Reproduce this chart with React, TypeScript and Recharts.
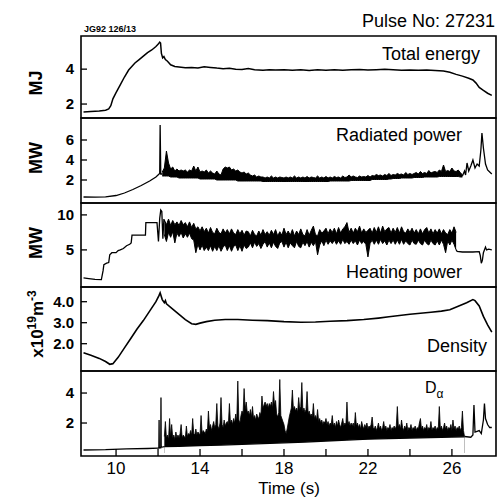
import React from 'react';
import { ComposedChart, Line, Area, XAxis, YAxis, ReferenceArea } from 'recharts';

const FONT = "'Liberation Sans', Arial, Helvetica, sans-serif";
const X_MIN = 8.33;
const X_MAX = 28.1;
const TIME_TICKS = [10, 12, 14, 16, 18, 20, 22, 24, 26];
const TIME_LABELS = [10, 14, 18, 22, 26];

// Total energy (MJ) [t, value]
const ENERGY: number[][] = [
  [8.45, 1.55], [8.8, 1.57], [9.2, 1.6], [9.5, 1.65], [9.65, 1.72], [9.75, 1.9], [9.85, 2.3], [10.0, 2.65],
  [10.2, 3.1], [10.4, 3.55], [10.6, 3.95], [10.75, 4.15], [10.9, 4.35], [11.1, 4.55], [11.3, 4.75], [11.5, 4.95],
  [11.7, 5.1], [11.9, 5.3], [12.0, 5.42], [12.08, 5.55], [12.12, 5.5], [12.16, 4.9], [12.22, 4.65], [12.28, 4.72],
  [12.35, 4.55], [12.45, 4.45], [12.6, 4.25], [12.8, 4.15], [13.0, 4.12], [13.3, 4.08], [13.6, 4.1], [13.9, 4.06],
  [14.2, 4.14], [14.5, 4.1], [14.8, 4.06], [15.1, 4.03], [15.4, 4.05], [15.7, 4.0], [16.0, 3.98], [16.3, 4.03],
  [16.6, 3.97], [17.0, 3.93], [17.3, 3.97], [17.6, 3.95], [18.0, 3.97], [18.4, 3.93], [18.8, 3.96], [19.2, 3.92],
  [19.6, 3.96], [20.0, 3.94], [20.4, 3.97], [20.8, 3.93], [21.2, 3.96], [21.6, 3.98], [22.0, 3.95], [22.4, 3.97],
  [22.8, 3.99], [23.2, 3.96], [23.6, 3.94], [24.0, 3.95], [24.4, 3.93], [24.8, 3.95], [25.2, 3.92], [25.6, 3.9],
  [25.9, 3.82], [26.2, 3.7], [26.5, 3.6], [26.8, 3.48], [27.0, 3.38], [27.15, 3.2], [27.3, 2.95], [27.5, 2.78],
  [27.7, 2.62], [27.9, 2.5],
];

// Radiated power (MW)
const RAD_RAMP: number[][] = [
  [8.45, 0.3], [9.0, 0.28], [9.5, 0.32], [10.0, 0.45], [10.4, 0.7], [10.8, 1.05], [11.2, 1.45],
  [11.6, 1.9], [11.9, 2.3], [12.05, 2.6], [12.08, 2.65], [12.1, 7.5], [12.13, 2.6], [12.2, 2.6],
];
// band [low, high] sampled every 0.1 s from 12.2 s
const RAD_BAND_START = 12.2;
const RAD_BAND: number[][] = [
  [2.4, 2.8], [2.4, 3.2], [2.4, 4.9], [2.4, 3.7], [2.3, 3.1], [2.3, 3.3], [2.3, 2.9], [2.3, 3.1], [2.2, 2.9], [2.2, 3.0],
  [2.2, 2.9], [2.2, 3.0], [2.2, 2.8], [2.2, 3.0], [2.2, 2.9], [2.2, 3.4], [2.2, 2.9], [2.2, 3.3], [2.1, 2.8], [2.1, 2.9],
  [2.1, 2.8], [2.1, 3.0], [2.1, 2.7], [2.1, 2.9], [2.1, 2.7], [2.1, 2.6], [2.0, 2.9], [2.0, 2.6], [2.0, 2.5], [2.0, 3.1],
  [2.0, 3.3], [2.0, 3.2], [2.0, 3.3], [2.0, 3.0], [2.0, 3.1], [2.0, 2.9], [1.9, 3.0], [1.9, 2.8], [1.9, 2.7], [1.9, 2.8],
  [1.9, 2.6], [1.9, 2.7], [1.9, 2.5], [1.9, 2.4], [1.9, 2.5], [1.9, 2.3], [1.9, 2.4], [1.9, 2.3], [1.85, 2.3], [1.85, 2.2],
  [1.85, 2.3], [1.85, 2.2], [1.85, 2.4], [1.85, 2.2], [1.85, 2.3], [1.85, 2.2], [1.85, 2.3], [1.85, 2.25], [1.85, 2.2], [1.85, 2.3],
  [1.85, 2.2], [1.85, 2.3], [1.85, 2.2], [1.85, 2.4], [1.85, 2.2], [1.85, 2.3], [1.85, 2.2], [1.85, 2.3], [1.85, 2.2], [1.85, 2.35],
  [1.85, 2.2], [1.85, 2.3], [1.85, 2.25], [1.85, 2.2], [1.85, 2.4], [1.85, 2.2], [1.85, 2.3], [1.85, 2.2], [1.85, 2.35], [1.85, 2.2],
  [1.9, 2.3], [1.9, 2.2], [1.9, 2.35], [1.9, 2.25], [1.9, 2.3], [1.9, 2.2], [1.9, 2.4], [1.9, 2.25], [1.9, 2.3], [1.9, 2.5],
  [1.95, 2.3], [1.95, 2.4], [1.95, 2.3], [1.95, 2.25], [1.95, 2.4], [1.95, 2.3], [1.95, 2.35], [1.95, 2.3], [1.95, 2.45], [1.95, 2.3],
  [2.05, 2.45], [2.05, 2.4], [2.05, 2.55], [2.05, 2.45], [2.05, 2.5], [2.05, 2.4], [2.05, 2.55], [2.05, 2.45], [2.1, 2.65], [2.1, 2.45],
  [2.15, 2.55], [2.15, 2.5], [2.15, 2.65], [2.15, 2.55], [2.2, 2.6], [2.2, 2.5], [2.2, 2.75], [2.2, 2.55], [2.2, 2.65], [2.2, 2.55],
  [2.25, 2.65], [2.25, 2.75], [2.25, 2.6], [2.25, 2.85], [2.25, 2.65], [2.3, 2.75], [2.3, 2.65], [2.3, 2.95], [2.3, 2.7], [2.3, 2.8],
  [2.3, 2.85], [2.3, 2.75], [2.35, 3.0], [2.35, 2.85], [2.35, 3.5], [2.35, 2.85], [2.35, 2.95], [2.35, 2.85], [2.35, 3.2], [2.35, 2.9],
  [2.35, 2.85], [2.35, 3.0], [2.3, 2.75], [2.3, 2.5],
];
const RAD_TAIL: number[][] = [
  [26.5, 2.4], [26.6, 2.9], [26.65, 2.5], [26.72, 3.7], [26.8, 2.9], [26.9, 3.4], [27.0, 4.0], [27.1, 3.2],
  [27.2, 3.6], [27.3, 3.4], [27.38, 5.0], [27.43, 6.7], [27.5, 5.2], [27.55, 4.4], [27.6, 3.6], [27.7, 3.0],
  [27.8, 2.8], [27.9, 2.6],
];

// Heating power (MW)
const HEAT_RAMP: number[][] = [
  [8.45, 1.0], [8.7, 0.9], [9.0, 0.8], [9.3, 0.75], [9.38, 2.0], [9.42, 2.9], [9.55, 3.1], [9.65, 3.2],
  [9.7, 4.3], [9.8, 4.6], [10.0, 4.6], [10.1, 4.9], [10.2, 5.0], [10.35, 5.2], [10.5, 5.6], [10.65, 5.8],
  [10.72, 6.0], [10.76, 7.1], [11.4, 7.1], [11.42, 8.9], [11.95, 8.9], [12.02, 6.2], [12.08, 9.5], [12.13, 10.7],
  [12.18, 10.5], [12.23, 6.6], [12.28, 9.4], [12.3, 9.0],
];
// band [low, high] sampled every 0.1 s from 12.3 s
const HEAT_BAND_START = 12.3;
const HEAT_BAND: number[][] = [
  [7.2, 9.3], [6.2, 8.6], [7.5, 9.4], [6.8, 8.5], [7.6, 9.2], [6.0, 8.6], [7.4, 9.0], [6.9, 8.5], [7.5, 9.2], [6.7, 8.6],
  [7.3, 8.9], [6.8, 8.3], [7.4, 9.0], [6.6, 8.2], [6.4, 8.8], [4.6, 8.0], [5.8, 8.3], [5.0, 7.7], [5.7, 8.3], [4.9, 7.6],
  [5.4, 8.1], [4.9, 7.4], [5.6, 8.2], [4.8, 7.5], [5.5, 7.3], [4.9, 8.1], [5.6, 7.5], [4.8, 7.3], [5.4, 8.0], [5.7, 7.4],
  [4.9, 7.9], [5.6, 7.3], [4.8, 8.0], [5.5, 7.4], [5.7, 7.2], [4.9, 7.9], [5.6, 7.3], [4.8, 7.8], [5.7, 7.1], [5.2, 7.7],
  [5.4, 7.6], [6.0, 7.0], [5.3, 7.8], [6.1, 7.2], [5.5, 7.0], [5.9, 7.7], [5.2, 7.1], [5.8, 7.9], [6.2, 7.2], [5.4, 7.6],
  [6.0, 7.1], [5.3, 7.8], [6.1, 7.2], [5.5, 7.9], [5.2, 7.0], [6.0, 7.6], [6.2, 7.1], [5.4, 8.1], [6.1, 7.2], [5.3, 7.7],
  [6.0, 7.1], [5.6, 7.9], [5.3, 7.0], [6.2, 7.7], [5.5, 7.2], [5.3, 8.0], [6.1, 7.2], [5.6, 7.0], [6.2, 7.9], [5.4, 7.1],
  [6.1, 7.8], [5.6, 8.4], [6.2, 7.2], [4.3, 7.0], [5.7, 7.9], [6.3, 7.4], [5.6, 7.7], [6.4, 8.1], [5.8, 7.3], [6.3, 8.0],
  [5.9, 7.5], [6.4, 8.1], [5.8, 7.3], [6.3, 8.2], [5.8, 7.4], [6.5, 8.0], [5.9, 8.3], [6.2, 8.9], [5.8, 7.5], [6.4, 8.1],
  [5.9, 7.4], [6.3, 8.1], [5.7, 7.6], [6.4, 8.4], [5.9, 7.4], [6.2, 8.0], [5.8, 7.5], [4.0, 7.8], [5.9, 8.1], [6.4, 7.4],
  [5.8, 8.2], [6.4, 7.5], [5.8, 8.3], [6.5, 7.4], [5.9, 8.4], [6.3, 7.6], [5.7, 8.0], [6.4, 8.2], [5.9, 7.4], [6.4, 8.1],
  [5.8, 7.5], [6.4, 8.2], [5.8, 7.4], [6.5, 8.3], [5.8, 7.6], [6.3, 7.4], [5.9, 8.0], [5.7, 7.5], [6.4, 8.1], [5.9, 7.4],
  [5.8, 7.9], [6.4, 7.3], [5.9, 8.0], [5.7, 7.3], [6.4, 7.9], [5.9, 8.2], [5.7, 7.4], [6.4, 8.0], [5.9, 7.3], [5.7, 7.9],
  [6.3, 7.4], [5.7, 8.0], [6.4, 7.3], [5.8, 7.9], [4.6, 7.4], [6.3, 7.2], [5.7, 7.9], [6.4, 7.4], [5.8, 8.3], [5.0, 7.5],
];
const HEAT_TAIL: number[][] = [
  [26.2, 5.0], [26.25, 4.8], [26.5, 4.7], [27.0, 4.7], [27.3, 4.75], [27.35, 4.2], [27.4, 3.1], [27.45, 3.5],
  [27.5, 4.6], [27.6, 5.4], [27.65, 5.0], [27.75, 5.1], [27.9, 5.0],
];

// Density (1e19 m^-3)
const DENSITY: number[][] = [
  [8.45, 1.57], [8.8, 1.45], [9.2, 1.3], [9.5, 1.15], [9.7, 1.02], [9.85, 1.05], [10.1, 1.35], [10.4, 1.8],
  [10.7, 2.25], [11.0, 2.7], [11.3, 3.1], [11.6, 3.55], [11.9, 4.0], [12.05, 4.3], [12.1, 4.42], [12.2, 4.1],
  [12.3, 3.95], [12.35, 4.05], [12.4, 3.9], [12.7, 3.65], [13.0, 3.4], [13.3, 3.15], [13.6, 2.95], [13.8, 2.92],
  [14.0, 2.98], [14.3, 3.05], [14.7, 3.12], [15.2, 3.15], [15.8, 3.15], [16.5, 3.12], [17.2, 3.1], [18.0, 3.05],
  [18.8, 3.02], [19.5, 3.03], [20.2, 3.07], [21.0, 3.1], [21.8, 3.15], [22.5, 3.22], [23.0, 3.28], [23.5, 3.34],
  [24.0, 3.4], [24.5, 3.45], [25.0, 3.5], [25.5, 3.55], [25.9, 3.62], [26.3, 3.78], [26.7, 3.95], [27.0, 4.1],
  [27.1, 4.05], [27.3, 3.8], [27.5, 3.3], [27.7, 2.9], [27.9, 2.55],
];

// D-alpha (a.u.)
const DA_PRE: number[][] = [
  [8.45, 0.2], [9.5, 0.22], [10.5, 0.27], [11.5, 0.3], [12.0, 0.33], [12.04, 0.33], [12.05, 2.2], [12.06, 0.35],
  [12.13, 0.35], [12.14, 3.7], [12.15, 0.38], [12.3, 0.42],
];
// bursts sampled every 0.05 s from 12.3 s
const DA_BURST_START = 12.3;
const DA_BURSTS = [
  1.1, 2.1, 1.0, 1.2, 0.9, 2.3, 1.1, 1.9, 1.0, 1.2, 0.9, 1.4, 1.0, 1.2, 1.0, 1.3, 1.9, 1.0, 1.2, 1.1,
  1.0, 1.8, 1.1, 1.3, 1.2, 1.5, 1.2, 2.3, 1.3, 1.2, 1.6, 1.2, 1.4, 1.3, 1.2, 2.5, 1.3, 1.5, 1.4, 1.3,
  1.6, 1.4, 2.8, 1.7, 1.9, 1.5, 1.8, 2.1, 1.7, 1.9, 3.3, 1.8, 1.6, 2.0, 3.7, 1.9, 1.7, 2.2, 1.8, 2.0,
  2.1, 1.9, 3.3, 2.0, 2.2, 1.9, 2.3, 2.0, 2.6, 2.1, 4.8, 2.2, 2.0, 2.5, 2.8, 2.6, 4.3, 2.9, 3.4, 2.7,
  2.8, 2.5, 2.9, 2.4, 3.1, 2.3, 2.5, 2.2, 2.6, 2.4, 2.3, 2.7, 2.5, 3.8, 3.0, 3.2, 3.4, 3.1, 3.3, 3.0,
  3.3, 3.1, 3.4, 3.0, 4.1, 3.2, 3.5, 2.6, 2.4, 2.7, 4.9, 2.5, 2.3, 2.1, 1.9, 1.5, 1.3, 1.6, 2.0, 2.4,
  2.7, 3.0, 4.2, 2.9, 3.1, 2.8, 3.0, 2.7, 3.7, 2.9, 3.1, 4.7, 2.8, 3.0, 2.7, 2.9, 4.1, 2.6, 2.8, 2.5,
  2.6, 2.4, 3.3, 2.3, 2.5, 2.2, 2.9, 2.1, 2.3, 2.0, 2.2, 1.9, 2.1, 2.0, 2.3, 1.9, 2.1, 1.8, 2.0, 1.9,
  2.5, 1.8, 2.0, 1.7, 2.1, 1.8, 2.2, 1.9, 1.7, 2.0, 2.3, 1.8, 2.0, 1.9, 3.4, 1.9, 2.1, 1.8, 2.0, 1.8,
  2.0, 1.7, 2.7, 1.8, 2.0, 1.7, 1.9, 1.6, 2.1, 1.8, 1.6, 1.9, 1.7, 2.0, 1.6, 1.8, 1.7, 1.9, 2.4, 1.7,
  1.6, 1.8, 1.5, 1.7, 2.0, 1.6, 1.8, 1.5, 1.7, 2.1, 1.6, 1.8, 1.5, 1.7, 1.6, 1.9, 1.5, 1.7, 1.6, 1.8,
  1.6, 1.8, 3.1, 1.7, 1.9, 1.6, 2.2, 1.7, 1.5, 1.8, 1.6, 2.0, 1.5, 1.7, 1.6, 1.9, 1.5, 1.7, 1.6, 1.8,
  1.5, 1.7, 1.6, 2.0, 2.3, 1.6, 1.8, 1.5, 1.7, 1.6, 1.9, 1.5, 1.7, 1.6, 2.1, 1.5, 1.7, 1.6, 1.8, 1.5,
  1.7, 1.6, 3.1, 1.6, 1.8, 1.5, 1.7, 2.0, 1.6, 1.8, 1.5, 1.7, 1.6, 1.9, 1.5, 2.2, 1.6, 1.8, 1.5, 1.7,
  1.6, 1.8, 1.5, 1.7, 2.8, 1.5, 1.1,
];
const DA_BASE: number[][] = [
  [12.3, 0.42], [13.0, 0.45], [14.0, 0.5], [15.0, 0.53], [16.0, 0.58], [17.0, 0.63], [18.0, 0.68], [19.0, 0.73],
  [20.0, 0.8], [21.0, 0.86], [22.0, 0.92], [23.0, 0.96], [24.0, 1.0], [25.0, 1.03], [26.0, 1.06], [26.6, 1.08],
];
const DA_TAIL: number[][] = [
  [26.6, 1.1], [26.9, 1.05], [27.0, 1.2], [27.05, 3.2], [27.1, 1.4], [27.3, 1.5], [27.4, 1.3], [27.5, 2.2],
  [27.55, 3.3], [27.6, 2.3], [27.7, 1.9], [27.8, 1.7], [27.9, 1.7],
];

const pts = (arr: number[][]) => arr.map(([t, v]) => ({ t, v }));
const sampled = (t0: number, step: number, vals: number[]) =>
  vals.map((v, i) => ({ t: Math.round((t0 + i * step) * 1000) / 1000, v }));
const band = (t0: number, step: number, pairs: number[][]) =>
  pairs.map(([lo, hi], i) => ({ t: Math.round((t0 + i * step) * 1000) / 1000, v: [lo, hi] }));

type PanelProps = {
  top: number;
  height: number;
  domain: [number, number];
  ticks: number[];
  fmt?: (v: number) => string;
  last?: boolean;
  children?: React.ReactNode;
};

function Panel({ top, height, domain, ticks, fmt, last, children }: PanelProps) {
  const axisH = last ? 40 : 0;
  return (
    <div style={{ position: 'absolute', left: 0, top: top - 2 }}>
      <ComposedChart
        width={498}
        height={height + 2 + (last ? axisH : 2)}
        margin={{ top: 2, right: 2, bottom: last ? 0 : 2, left: 0 }}
      >
        <XAxis
          type="number"
          dataKey="t"
          domain={[X_MIN, X_MAX]}
          allowDataOverflow
          ticks={TIME_TICKS}
          interval={0}
          hide={!last}
          height={axisH}
          axisLine={false}
          tickSize={-7}
          tickMargin={13}
          tickLine={{ stroke: '#000', strokeWidth: 1.3 }}
          tick={{ fontSize: 17, fill: '#000', fontFamily: FONT }}
          tickFormatter={(v: number) => (TIME_LABELS.includes(v) ? String(v) : '')}
        />
        <YAxis
          type="number"
          domain={domain}
          allowDataOverflow
          ticks={ticks}
          interval={0}
          width={81}
          axisLine={false}
          tickSize={-6}
          tickMargin={13}
          tickLine={{ stroke: '#000', strokeWidth: 1.3 }}
          tick={{ fontSize: 15, fontWeight: 700, fill: '#000', fontFamily: FONT }}
          tickFormatter={fmt}
        />
        <ReferenceArea
          x1={X_MIN}
          x2={X_MAX}
          y1={domain[0]}
          y2={domain[1]}
          fill="none"
          fillOpacity={0}
          stroke="#000"
          strokeWidth={1.6}
          ifOverflow="visible"
        />
        {children}
      </ComposedChart>
    </div>
  );
}

const lineProps = {
  type: 'linear' as const,
  dataKey: 'v',
  stroke: '#000',
  dot: false,
  activeDot: false,
  isAnimationActive: false,
};

const areaProps = {
  type: 'linear' as const,
  dataKey: 'v',
  stroke: '#000',
  fill: '#000',
  fillOpacity: 1,
  dot: false,
  activeDot: false,
  isAnimationActive: false,
};

export default function App() {
  return (
    <div style={{ position: 'absolute', left: 0, top: 0, width: 498, height: 497, background: '#fff', fontFamily: FONT }}>
      <Panel top={36} height={82} domain={[1.2, 5.9]} ticks={[2, 4]}>
        <Line {...lineProps} data={pts(ENERGY)} strokeWidth={1.5} />
      </Panel>
      <Panel top={118} height={85} domain={[-0.3, 8.2]} ticks={[2, 4, 6]}>
        <Area {...areaProps} data={band(RAD_BAND_START, 0.1, RAD_BAND)} strokeWidth={1} />
        <Line {...lineProps} data={pts(RAD_RAMP)} strokeWidth={1.3} />
        <Line {...lineProps} data={pts(RAD_TAIL)} strokeWidth={1.3} />
      </Panel>
      <Panel top={203} height={84} domain={[-0.3, 11.7]} ticks={[5, 10]}>
        <Area {...areaProps} data={band(HEAT_BAND_START, 0.1, HEAT_BAND)} strokeWidth={1} />
        <Line {...lineProps} data={pts(HEAT_RAMP)} strokeWidth={1.3} />
        <Line {...lineProps} data={pts(HEAT_TAIL)} strokeWidth={1.3} />
      </Panel>
      <Panel top={287} height={84} domain={[0.7, 4.7]} ticks={[2, 3, 4]} fmt={(v: number) => v.toFixed(1)}>
        <Line {...lineProps} data={pts(DENSITY)} strokeWidth={1.6} />
      </Panel>
      <Panel top={371} height={85} domain={[-0.2, 5.47]} ticks={[2, 4]} last>
        <Area {...areaProps} data={sampled(DA_BURST_START, 0.05, DA_BURSTS)} strokeWidth={0.8} baseValue={0} />
        <Area {...areaProps} data={pts(DA_BASE)} fill="#fff" strokeWidth={1.3} baseValue={0} />
        <Line {...lineProps} data={pts(DA_PRE)} strokeWidth={1.3} />
        <Line {...lineProps} data={pts(DA_TAIL)} strokeWidth={1.3} />
      </Panel>
      <svg
        width={498}
        height={497}
        style={{ position: 'absolute', left: 0, top: 0, pointerEvents: 'none' }}
        fontFamily={FONT}
        fill="#000"
      >
        <text x={84} y={32} fontSize={9} fontWeight={700}>JG92 126/13</text>
        <text x={495} y={27} fontSize={18} textAnchor="end">Pulse No: 27231</text>
        <text x={480} y={60} fontSize={18} textAnchor="end">Total energy</text>
        <text x={462} y={141} fontSize={18} textAnchor="end">Radiated power</text>
        <text x={462} y={278} fontSize={18} textAnchor="end">Heating power</text>
        <text x={487} y={352} fontSize={18} textAnchor="end">Density</text>
        <text x={425} y={393} fontSize={16}>
          D<tspan fontSize={12} dy={5}>α</tspan>
        </text>
        <text transform="translate(42,83) rotate(-90)" fontSize={18} fontWeight={700} textAnchor="middle">MJ</text>
        <text transform="translate(42,158) rotate(-90)" fontSize={18} fontWeight={700} textAnchor="middle">MW</text>
        <text transform="translate(42,243) rotate(-90)" fontSize={18} fontWeight={700} textAnchor="middle">MW</text>
        <text transform="translate(43,324) rotate(-90)" fontSize={17} fontWeight={700} textAnchor="middle">
          x10<tspan fontSize={12} dy={-7}>19</tspan><tspan dy={7}>m</tspan><tspan fontSize={12} dy={-7}>-3</tspan>
        </text>
        <text x={289} y={494} fontSize={17} textAnchor="middle">Time (s)</text>
      </svg>
    </div>
  );
}
